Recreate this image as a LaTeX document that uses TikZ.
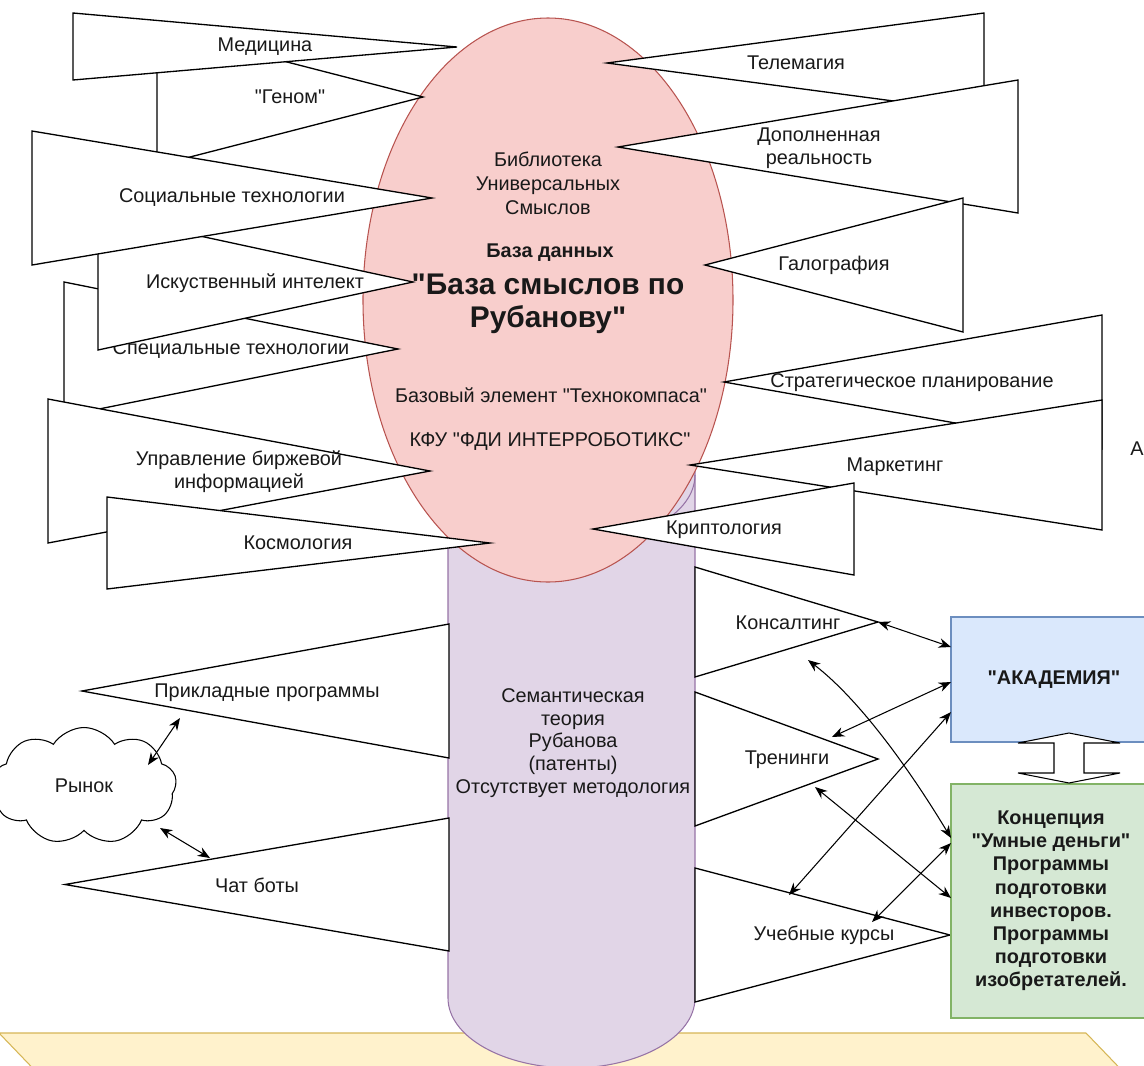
\documentclass[tikz,border=0pt]{standalone}
\usepackage{fontspec}
\setmainfont{Liberation Sans}
\newfontfamily\lfont{Liberation Sans}
\usetikzlibrary{arrows.meta,shapes.geometric,shapes.symbols,positioning}

\definecolor{pinkfill}{HTML}{F8CECC}
\definecolor{pinkline}{HTML}{B85450}
\definecolor{lilacfill}{HTML}{E1D5E7}
\definecolor{lilacline}{HTML}{9673A6}
\definecolor{bluefill}{HTML}{DAE8FC}
\definecolor{blueline}{HTML}{6C8EBF}
\definecolor{greenfill}{HTML}{D5E8D4}
\definecolor{greenline}{HTML}{82B366}
\definecolor{sandfill}{HTML}{FFF2CC}
\definecolor{sandline}{HTML}{D6B656}

\begin{document}
\begin{tikzpicture}[
      x=0.2mm, y=-0.2mm,
      tri/.style={draw=black,fill=white,line width=0.75pt,line join=miter},
      lbl/.style={inner sep=0pt,align=center,text=black!90,
                  font=\lfont\fontsize{11.3}{13}\selectfont},
      box/.style={rectangle,line width=0.6pt,inner sep=0pt,align=center,text=black!90,
                  font=\lfont\fontsize{11.3}{13.2}\selectfont\bfseries},
      link/.style={{Stealth[length=7pt,width=5.5pt]}-{Stealth[length=7pt,width=5.5pt]},
                   line width=0.6pt},
      >=Stealth
    ]
    \useasboundingbox (0,0) rectangle (1144,1066);
    \clip (0,0) rectangle (1144,1066);

    % Base platform
    \draw[draw=sandline,fill=sandfill,line width=0.6pt]
      (-1,1033) -- (1086,1033) -- (1160,1110) -- (73,1110) -- cycle;

    % Theory column
    \draw[draw=lilacline,fill=lilacfill,line width=0.6pt]
      (448,420) -- (448,998) .. controls (448,1036.6) and (503.3,1068) .. (571.5,1068)
      .. controls (639.7,1068) and (695,1036.6) .. (695,998) -- (695,420) -- cycle;
    \draw[lilacline,line width=0.6pt]
      (448,475) .. controls (448,513.6) and (503.3,545) .. (571.5,545)
      .. controls (639.7,545) and (695,513.6) .. (695,475);
    \node[lbl] (teoria) at (573,743)
      {Семантическая\\теория\\Рубанова\\(патенты)\\Отсутствует методология};

    % Database of meanings
    \node[ellipse,draw=pinkline,fill=pinkfill,line width=0.6pt,inner sep=0pt,
          minimum width=74mm,minimum height=112.8mm] (db) at (548,300) {};
    \node[lbl,font=\lfont\fontsize{11.3}{13.6}\selectfont] (bib) at (548,183)
      {Библиотека\\Универсальных\\Смыслов};
    \node[lbl,font=\lfont\fontsize{11.3}{13}\selectfont\bfseries] (bdt) at (550,253) {База данных};
    \node[lbl,font=\lfont\fontsize{17}{18.8}\selectfont\bfseries] (bsm) at (548,304)
      {"База смыслов по\\Рубанову"};
    \node[lbl] (baz) at (551,395) {Базовый элемент "Технокомпаса"};
    \node[lbl] (kfu) at (550,442) {КФУ "ФДИ ИНТЕРРОБОТИКС"};

    % Left branches
    \draw[tri] (157,28.5) -- (423,97) -- (157,165.5) -- cycle;
    \node[lbl] (genom) at (290,97) {"Геном"};
    \draw[tri] (73,13) -- (457,47) -- (73,80) -- cycle;
    \node[lbl] (med) at (265,47) {Медицина};
    \draw[tri] (64,282) -- (398,349) -- (64,416) -- cycle;
    \node[lbl] (spec) at (231,350) {Специальные технологии};
    \draw[tri] (98,214) -- (413,282) -- (98,350) -- cycle;
    \node[lbl] (ii) at (255,283) {Искуственный интелект};
    \draw[tri] (32,131) -- (432,198) -- (32,265) -- cycle;
    \node[lbl] (soc) at (232,198) {Социальные технологии};
    \draw[tri] (48,399) -- (430,471) -- (48,543) -- cycle;
    \node[lbl] (birzh) at (239,472) {Управление биржевой\\информацией};
    \draw[tri] (107,497) -- (490,543) -- (107,589) -- cycle;
    \node[lbl] (kosmo) at (298,543) {Космология};

    % Right branches
    \draw[tri] (607,63) -- (984,13) -- (984,113) -- cycle;
    \node[lbl] (tele) at (796,63) {Телемагия};
    \draw[tri] (618,147) -- (1018,80) -- (1018,213) -- cycle;
    \node[lbl] (dop) at (819,148) {Дополненная\\реальность};
    \draw[tri] (705,265) -- (963,198) -- (963,332) -- cycle;
    \node[lbl] (galo) at (834,265) {Галография};
    \draw[tri] (724,382) -- (1102,315) -- (1102,449) -- cycle;
    \node[lbl] (strat) at (912,383) {Стратегическое планирование};
    \draw[tri] (690,465) -- (1102,400) -- (1102,530) -- cycle;
    \node[lbl] (mark) at (895,467) {Маркетинг};
    \draw[tri] (593,529) -- (854,483) -- (854,575) -- cycle;
    \node[lbl] (kripto) at (724,530) {Криптология};

    % Lower branches
    \draw[tri] (82,691) -- (449,624) -- (449,758) -- cycle;
    \node[lbl] (prikl) at (267,693) {Прикладные программы};
    \draw[tri] (65,884.5) -- (449,818) -- (449,951) -- cycle;
    \node[lbl] (chat) at (257,885) {Чат боты};
    \draw[tri] (695,567) -- (878,622) -- (695,677) -- cycle;
    \node[lbl] (kons) at (788,623) {Консалтинг};
    \draw[tri] (695,692) -- (878,759) -- (695,826) -- cycle;
    \node[lbl] (tren) at (787,760) {Тренинги};
    \draw[tri] (695,868) -- (950,935) -- (695,1002) -- cycle;
    \node[lbl] (kurs) at (824,935) {Учебные курсы};

    % Market
    \node[cloud,draw=black,fill=white,line width=0.6pt,cloud puffs=9,cloud puff arc=115,
          cloud ignores aspect,minimum width=37mm,minimum height=23.4mm,inner sep=0pt,
          text=black!90,font=\lfont\fontsize{11.3}{13}\selectfont] (rynok) at (84,786) {Рынок};

    % Academy and concept
    \node[box,draw=blueline,fill=bluefill,minimum width=41.2mm,minimum height=25mm]
      (akad) at (1054,679.5) {"АКАДЕМИЯ"};
    \node[box,draw=greenline,fill=greenfill,minimum width=40mm,minimum height=46.8mm]
      (umnye) at (1051,901)
      {Концепция\\"Умные деньги"\\Программы\\подготовки\\инвесторов.\\Программы\\подготовки\\изобретателей.};
    \draw[fill=white,line width=0.6pt] (1069,733) -- ++(51,10) -- ++(-36,0) -- ++(0,30)
      -- ++(36,0) -- ++(-51,10) -- ++(-51,-10) -- ++(36,0) -- ++(0,-30) -- ++(-36,0) -- cycle;

    \node[lbl,anchor=west] (cut) at (1130,449) {А};

    % Link ends
    \coordinate (rynok-1) at (148,765);
    \coordinate (rynok-2) at (160,828);
    \coordinate (prikl-1) at (180,718);
    \coordinate (chat-1) at (210,858);
    \coordinate (kons-1) at (878,622);
    \coordinate (kons-2) at (808,660);
    \coordinate (tren-1) at (832,737);
    \coordinate (tren-2) at (815,787);
    \coordinate (kurs-1) at (789,895);
    \coordinate (kurs-2) at (872,922);
    \coordinate (akad-1) at (951,647);
    \coordinate (akad-2) at (951,682);
    \coordinate (akad-3) at (951,712);
    \coordinate (umnye-1) at (951,838);
    \coordinate (umnye-2) at (951,843);
    \coordinate (umnye-3) at (951,898);

    % Links
    \draw[link] (rynok-1) -- (prikl-1);
    \draw[link] (rynok-2) -- (chat-1);
    \draw[link] (kons-1) -- (akad-1);
    \draw[link] (kons-2) .. controls (860,700) and (910,770) .. (umnye-1);
    \draw[link] (akad-2) -- (tren-1);
    \draw[link] (akad-3) -- (kurs-1);
    \draw[link] (tren-2) -- (umnye-3);
    \draw[link] (umnye-2) -- (kurs-2);

  \end{tikzpicture}
\end{document}
